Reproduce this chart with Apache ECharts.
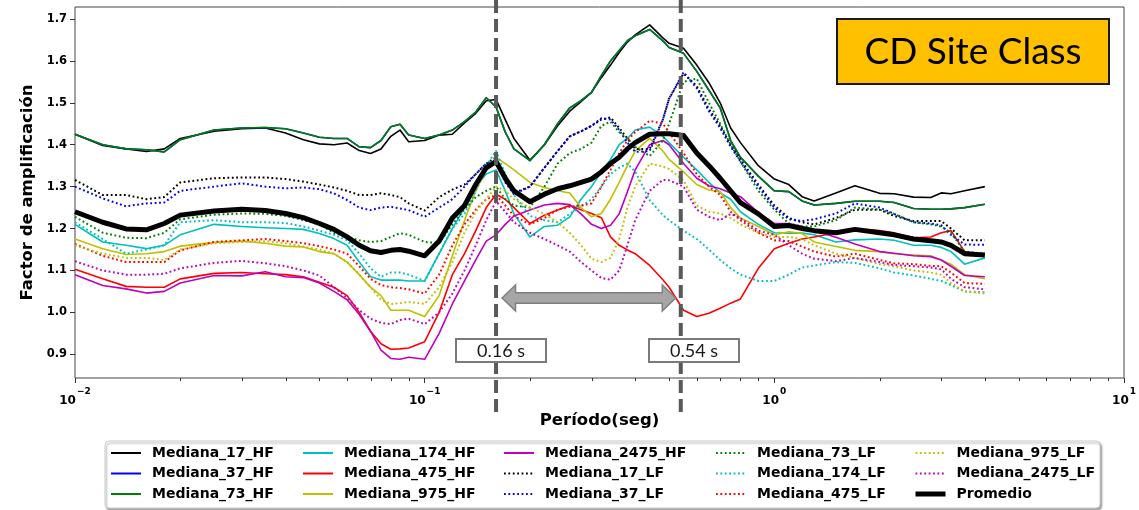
<!DOCTYPE html>
<html>
<head>
<meta charset="utf-8">
<script src="https://cdn.jsdelivr.net/npm/echarts@6/dist/echarts.min.js"></script>
<style>
  html, body { margin: 0; padding: 0; background: #ffffff; }
  #chart { width: 1139px; height: 510px; }
</style>
</head>
<body>
<div id="chart"></div>
<script>
// Periods (s) at which every median spectrum is sampled
const periods = [
  0.01, 0.012, 0.014, 0.016, 0.018, 0.02, 0.025, 0.03, 0.035, 0.04,
  0.045, 0.05, 0.055, 0.06, 0.065, 0.07, 0.075, 0.08, 0.085, 0.09,
  0.1, 0.11, 0.12, 0.13, 0.14, 0.15, 0.16, 0.17, 0.18, 0.2,
  0.22, 0.24, 0.26, 0.28, 0.3, 0.32, 0.34, 0.36, 0.38, 0.4,
  0.44, 0.48, 0.5, 0.55, 0.6, 0.65, 0.7, 0.75, 0.8, 0.9,
  1.0, 1.1, 1.2, 1.3, 1.5, 1.7, 2.0, 2.2, 2.5, 2.8,
  3.0, 3.2, 3.5, 4.0
];

// High-frequency medians
const mediana17HF = [
  1.425, 1.398, 1.390, 1.384, 1.390, 1.415, 1.432, 1.438, 1.440, 1.428,
  1.412, 1.402, 1.400, 1.404, 1.386, 1.379, 1.390, 1.420, 1.435, 1.407,
  1.410, 1.423, 1.425, 1.452, 1.475, 1.505, 1.508, 1.460, 1.415, 1.363,
  1.400, 1.445, 1.480, 1.503, 1.525, 1.560, 1.590, 1.620, 1.645, 1.662,
  1.686, 1.655, 1.642, 1.630, 1.590, 1.548, 1.500, 1.440, 1.405, 1.350,
  1.318, 1.305, 1.276, 1.266, 1.285, 1.302, 1.284, 1.283, 1.275, 1.274,
  1.285, 1.283, 1.290, 1.300
];
const mediana37HF = [
  1.425, 1.400, 1.390, 1.388, 1.383, 1.412, 1.435, 1.440, 1.441, 1.438,
  1.428, 1.418, 1.415, 1.415, 1.395, 1.393, 1.410, 1.443, 1.449, 1.423,
  1.415, 1.423, 1.435, 1.455, 1.478, 1.512, 1.490, 1.430, 1.390, 1.362,
  1.400, 1.450, 1.488, 1.505, 1.525, 1.565, 1.600, 1.625, 1.648, 1.660,
  1.675, 1.648, 1.632, 1.618, 1.575, 1.530, 1.488, 1.410, 1.370, 1.325,
  1.290, 1.288, 1.266, 1.256, 1.260, 1.265, 1.265, 1.262, 1.248, 1.246,
  1.246, 1.247, 1.250, 1.258
];
const mediana73HF = [
  1.425, 1.400, 1.390, 1.388, 1.383, 1.412, 1.435, 1.440, 1.441, 1.438,
  1.428, 1.418, 1.415, 1.415, 1.395, 1.393, 1.410, 1.443, 1.449, 1.423,
  1.415, 1.423, 1.435, 1.455, 1.478, 1.512, 1.490, 1.430, 1.390, 1.362,
  1.400, 1.450, 1.488, 1.505, 1.525, 1.565, 1.600, 1.625, 1.648, 1.660,
  1.675, 1.648, 1.632, 1.618, 1.575, 1.530, 1.488, 1.410, 1.370, 1.325,
  1.290, 1.288, 1.266, 1.256, 1.260, 1.265, 1.265, 1.262, 1.248, 1.246,
  1.246, 1.247, 1.250, 1.258
];
const mediana174HF = [
  1.210, 1.168, 1.160, 1.152, 1.160, 1.185, 1.210, 1.205, 1.202, 1.200,
  1.198, 1.188, 1.176, 1.160, 1.120, 1.085, 1.077, 1.077, 1.077, 1.075,
  1.075, 1.140, 1.200, 1.250, 1.300, 1.330, 1.340, 1.290, 1.235, 1.180,
  1.205, 1.208, 1.228, 1.270, 1.300, 1.335, 1.365, 1.400, 1.415, 1.435,
  1.442, 1.420, 1.405, 1.370, 1.340, 1.310, 1.285, 1.270, 1.240, 1.210,
  1.190, 1.189, 1.189, 1.185, 1.168, 1.173, 1.175, 1.172, 1.160, 1.160,
  1.155, 1.145, 1.115, 1.130
];
const mediana475HF = [
  1.103, 1.080, 1.062, 1.060, 1.060, 1.080, 1.093, 1.095, 1.092, 1.090,
  1.085, 1.072, 1.060, 1.040, 1.000, 0.955, 0.925, 0.912, 0.913, 0.915,
  0.930, 1.000, 1.090, 1.140, 1.195, 1.250, 1.282, 1.270, 1.250, 1.212,
  1.232, 1.244, 1.255, 1.245, 1.236, 1.226, 1.180, 1.160, 1.149, 1.140,
  1.112, 1.078, 1.060, 1.005, 0.990, 0.998, 1.010, 1.022, 1.032, 1.105,
  1.152, 1.165, 1.175, 1.180, 1.190, 1.200, 1.195, 1.190, 1.178, 1.180,
  1.190, 1.195, 1.145, 1.137
];
const mediana975HF = [
  1.175, 1.152, 1.138, 1.140, 1.145, 1.158, 1.167, 1.170, 1.165, 1.158,
  1.156, 1.145, 1.140, 1.120, 1.090, 1.060, 1.040, 1.005, 1.005, 1.005,
  0.990, 1.040, 1.135, 1.220, 1.290, 1.340, 1.370, 1.355, 1.340, 1.310,
  1.298, 1.290, 1.285, 1.250, 1.228, 1.236, 1.270, 1.310, 1.350, 1.385,
  1.415, 1.385, 1.365, 1.335, 1.305, 1.292, 1.288, 1.250, 1.225, 1.205,
  1.185, 1.192, 1.188, 1.168, 1.157, 1.148, 1.145, 1.140, 1.137, 1.135,
  1.125, 1.115, 1.090, 1.080
];
const mediana2475HF = [
  1.090, 1.064, 1.056, 1.046, 1.050, 1.070, 1.088, 1.087, 1.097, 1.085,
  1.083, 1.070, 1.050, 1.030, 0.995, 0.955, 0.910, 0.890, 0.888, 0.893,
  0.888, 0.950, 1.020, 1.075, 1.125, 1.170, 1.185, 1.210, 1.230, 1.244,
  1.256, 1.260, 1.257, 1.235, 1.210, 1.200, 1.208, 1.235, 1.288, 1.340,
  1.400, 1.410, 1.400, 1.355, 1.320, 1.302, 1.295, 1.285, 1.276, 1.238,
  1.212, 1.212, 1.205, 1.195, 1.179, 1.163, 1.145, 1.141, 1.135, 1.133,
  1.125, 1.110, 1.088, 1.085
];

// Low-frequency medians
const mediana17LF = [
  1.316, 1.280, 1.280, 1.270, 1.275, 1.310, 1.320, 1.322, 1.322, 1.318,
  1.312, 1.305, 1.298, 1.290, 1.280, 1.280, 1.284, 1.280, 1.275, 1.260,
  1.243, 1.275, 1.293, 1.305, 1.330, 1.355, 1.370, 1.315, 1.285, 1.300,
  1.345, 1.385, 1.420, 1.432, 1.445, 1.460, 1.465, 1.440, 1.415, 1.390,
  1.390, 1.460, 1.510, 1.570, 1.540, 1.485, 1.445, 1.400, 1.365, 1.305,
  1.255, 1.225, 1.215, 1.210, 1.225, 1.245, 1.245, 1.230, 1.218, 1.218,
  1.218, 1.200, 1.172, 1.172
];
const mediana37LF = [
  1.300, 1.272, 1.253, 1.260, 1.262, 1.290, 1.300, 1.308, 1.300, 1.296,
  1.298, 1.294, 1.284, 1.268, 1.250, 1.244, 1.250, 1.252, 1.248, 1.244,
  1.228, 1.250, 1.270, 1.300, 1.330, 1.355, 1.360, 1.310, 1.282, 1.300,
  1.345, 1.385, 1.420, 1.432, 1.445, 1.463, 1.460, 1.435, 1.405, 1.383,
  1.385, 1.460, 1.510, 1.573, 1.535, 1.480, 1.440, 1.395, 1.360, 1.300,
  1.250, 1.222, 1.218, 1.222, 1.236, 1.260, 1.250, 1.235, 1.215, 1.212,
  1.208, 1.185, 1.162, 1.161
];
const mediana73LF = [
  1.228, 1.190, 1.178, 1.177, 1.190, 1.222, 1.233, 1.236, 1.235, 1.230,
  1.220, 1.210, 1.190, 1.180, 1.172, 1.168, 1.170, 1.180, 1.189, 1.185,
  1.168, 1.165, 1.210, 1.245, 1.275, 1.290, 1.300, 1.270, 1.255, 1.250,
  1.300, 1.355, 1.380, 1.390, 1.405, 1.445, 1.455, 1.430, 1.415, 1.395,
  1.373, 1.410, 1.450, 1.550, 1.558, 1.500, 1.450, 1.400, 1.360, 1.290,
  1.245, 1.212, 1.205, 1.205, 1.220, 1.250, 1.245, 1.235, 1.215, 1.210,
  1.205, 1.190, 1.145, 1.140
];
const mediana174LF = [
  1.215, 1.175, 1.140, 1.150, 1.160, 1.215, 1.220, 1.215, 1.215, 1.213,
  1.205, 1.195, 1.185, 1.172, 1.140, 1.105, 1.085, 1.095, 1.095, 1.090,
  1.075, 1.140, 1.200, 1.235, 1.290, 1.350, 1.385, 1.330, 1.280, 1.230,
  1.220, 1.215, 1.235, 1.252, 1.270, 1.300, 1.330, 1.345, 1.355, 1.336,
  1.268, 1.232, 1.220, 1.195, 1.175, 1.150, 1.125, 1.105, 1.090, 1.075,
  1.075, 1.090, 1.107, 1.112, 1.120, 1.118, 1.105, 1.095, 1.088, 1.080,
  1.075, 1.065, 1.050, 1.048
];
const mediana475LF = [
  1.163, 1.135, 1.120, 1.120, 1.120, 1.148, 1.168, 1.172, 1.175, 1.170,
  1.165, 1.158, 1.150, 1.140, 1.110, 1.080, 1.065, 1.060, 1.058, 1.055,
  1.045, 1.090, 1.160, 1.210, 1.245, 1.270, 1.280, 1.255, 1.230, 1.210,
  1.225, 1.245, 1.252, 1.255, 1.260, 1.300, 1.340, 1.380, 1.410, 1.430,
  1.457, 1.450, 1.430, 1.380, 1.330, 1.300, 1.280, 1.240, 1.220, 1.190,
  1.172, 1.170, 1.157, 1.145, 1.133, 1.140, 1.125, 1.117, 1.115, 1.111,
  1.110, 1.095, 1.070, 1.068
];
const mediana975LF = [
  1.160, 1.140, 1.130, 1.130, 1.125, 1.150, 1.165, 1.168, 1.170, 1.165,
  1.157, 1.150, 1.140, 1.120, 1.090, 1.060, 1.030, 1.020, 1.022, 1.025,
  1.020, 1.060, 1.120, 1.190, 1.240, 1.270, 1.300, 1.290, 1.270, 1.250,
  1.235, 1.215, 1.190, 1.160, 1.128, 1.120, 1.130, 1.175, 1.250, 1.300,
  1.355, 1.348, 1.342, 1.315, 1.255, 1.240, 1.236, 1.225, 1.210, 1.190,
  1.180, 1.180, 1.175, 1.160, 1.140, 1.130, 1.115, 1.110, 1.100, 1.095,
  1.090, 1.070, 1.050, 1.045
];
const mediana2475LF = [
  1.122, 1.100, 1.090, 1.090, 1.092, 1.105, 1.118, 1.123, 1.117, 1.110,
  1.100, 1.088, 1.060, 1.035, 1.005, 0.985, 0.975, 0.972, 0.982, 0.985,
  0.972, 1.000, 1.045, 1.100, 1.160, 1.220, 1.265, 1.240, 1.215, 1.190,
  1.175, 1.160, 1.145, 1.120, 1.100, 1.082, 1.078, 1.100, 1.160, 1.220,
  1.290, 1.316, 1.315, 1.300, 1.245, 1.228, 1.220, 1.235, 1.225, 1.195,
  1.185, 1.160, 1.140, 1.128, 1.122, 1.130, 1.120, 1.113, 1.110, 1.107,
  1.103, 1.080, 1.060, 1.055
];

// Average of all medians
const promedio = [
  1.240, 1.215, 1.199, 1.197, 1.212, 1.232, 1.242, 1.246, 1.243, 1.236,
  1.226, 1.212, 1.198, 1.180, 1.160, 1.147, 1.143, 1.148, 1.150, 1.146,
  1.135, 1.170, 1.225, 1.255, 1.305, 1.345, 1.360, 1.320, 1.290, 1.264,
  1.282, 1.295, 1.302, 1.310, 1.318, 1.335, 1.355, 1.370, 1.390, 1.405,
  1.425, 1.426, 1.426, 1.422, 1.380, 1.350, 1.320, 1.290, 1.262, 1.235,
  1.205, 1.207, 1.200, 1.195, 1.190, 1.198, 1.190, 1.185, 1.175, 1.171,
  1.168, 1.160, 1.140, 1.137
];

// Axis ticks and labels
const yTickValues = [0.9, 1.0, 1.1, 1.2, 1.3, 1.4, 1.5, 1.6, 1.7];
const xTickValues = [0.01, 0.1, 1, 10];
const xTickExponents = ['\u22122', '\u22121', '0', '1'];
const xMinorTickValues = [
  0.02, 0.03, 0.04, 0.05, 0.06, 0.07, 0.08, 0.09,
  0.2, 0.3, 0.4, 0.5, 0.6, 0.7, 0.8, 0.9,
  2, 3, 4, 5, 6, 7, 8, 9
];

// Period band boundaries and labels
const bandPeriods = [0.16, 0.54];
const bandLabels = ['0.16 s', '0.54 s'];
const siteClassLabel = 'CD Site Class';

// Series styling (matplotlib classic colours)
const seriesList = [
  { name: 'Mediana_17_HF', values: mediana17HF, color: '#000000', dotted: false },
  { name: 'Mediana_37_HF', values: mediana37HF, color: '#0000ff', dotted: false },
  { name: 'Mediana_73_HF', values: mediana73HF, color: '#008000', dotted: false },
  { name: 'Mediana_174_HF', values: mediana174HF, color: '#00bfbf', dotted: false },
  { name: 'Mediana_475_HF', values: mediana475HF, color: '#ff0000', dotted: false },
  { name: 'Mediana_975_HF', values: mediana975HF, color: '#bfbf00', dotted: false },
  { name: 'Mediana_2475_HF', values: mediana2475HF, color: '#bf00bf', dotted: false },
  { name: 'Mediana_17_LF', values: mediana17LF, color: '#000000', dotted: true },
  { name: 'Mediana_37_LF', values: mediana37LF, color: '#0000ff', dotted: true },
  { name: 'Mediana_73_LF', values: mediana73LF, color: '#008000', dotted: true },
  { name: 'Mediana_174_LF', values: mediana174LF, color: '#00bfbf', dotted: true },
  { name: 'Mediana_475_LF', values: mediana475LF, color: '#ff0000', dotted: true },
  { name: 'Mediana_975_LF', values: mediana975LF, color: '#bfbf00', dotted: true },
  { name: 'Mediana_2475_LF', values: mediana2475LF, color: '#bf00bf', dotted: true },
  { name: 'Promedio', values: promedio, color: '#000000', dotted: false, thick: true }
];

// Legend laid out column by column, five columns of three entries
const legendColumns = [
  ['Mediana_17_HF', 'Mediana_37_HF', 'Mediana_73_HF'],
  ['Mediana_174_HF', 'Mediana_475_HF', 'Mediana_975_HF'],
  ['Mediana_2475_HF', 'Mediana_17_LF', 'Mediana_37_LF'],
  ['Mediana_73_LF', 'Mediana_174_LF', 'Mediana_475_LF'],
  ['Mediana_975_LF', 'Mediana_2475_LF', 'Promedio']
];
const legendColumnLeft = [110, 302, 503, 715, 913];

const GRID = { left: 75, top: 7, width: 1054, height: 371 };
const Y_MIN = 0.8434, Y_MAX = 1.7286;
const BOLD = { fontFamily: 'DejaVu Sans', fontWeight: 'bold', color: '#000000' };

const chart = echarts.init(document.getElementById('chart'), null, { renderer: 'canvas' });

const styleByName = {};
seriesList.forEach(s => { styleByName[s.name] = s; });

const series = seriesList.map(s => ({
  name: s.name,
  type: 'line',
  data: periods.map((p, i) => [p, s.values[i]]),
  symbol: 'none',
  showSymbol: false,
  silent: true,
  clip: true,
  lineStyle: {
    color: s.color,
    width: s.thick ? 5 : (s.dotted ? 2 : 1.6),
    type: s.dotted ? [1.8, 2.6] : 'solid',
    cap: 'butt',
    join: 'round'
  },
  itemStyle: { color: s.color }
}));

const legends = legendColumns.map((col, k) => ({
  orient: 'vertical',
  left: legendColumnLeft[k],
  top: 446,
  padding: 0,
  itemWidth: 30,
  itemHeight: 14,
  itemGap: 6.5,
  selectedMode: false,
  itemStyle: { opacity: 0, borderWidth: 0 },
  textStyle: Object.assign({ fontSize: 14, padding: [0, 0, 0, 6] }, BOLD),
  data: col.map(name => ({
    name: name,
    lineStyle: {
      width: styleByName[name].thick ? 5 : 2,
      type: styleByName[name].dotted ? [1.8, 2.6] : 'solid',
      color: styleByName[name].color
    }
  }))
}));

chart.setOption({
  animation: false,
  backgroundColor: '#ffffff',
  grid: Object.assign({ show: true, borderColor: '#444444', borderWidth: 1, backgroundColor: 'transparent' }, GRID),
  legend: legends,
  xAxis: {
    type: 'log',
    logBase: 10,
    min: 0.01,
    max: 10,
    axisLine: { show: false },
    splitLine: { show: false },
    axisTick: { show: true, length: 5, lineStyle: { color: '#333333', width: 1 } },
    axisLabel: {
      margin: 9,
      formatter: v => {
        const e = Math.round(Math.log10(v));
        const idx = xTickValues.findIndex(t => Math.round(Math.log10(t)) === e);
        return '{b|10}{s|' + (idx >= 0 ? xTickExponents[idx] : e) + '}';
      },
      rich: {
        b: Object.assign({ fontSize: 12, lineHeight: 20, verticalAlign: 'bottom' }, BOLD),
        s: Object.assign({ fontSize: 9, lineHeight: 20, verticalAlign: 'top', padding: [0, 0, 0, 1] }, BOLD)
      }
    },
    name: 'Período(seg)',
    nameLocation: 'middle',
    nameGap: 25,
    nameTextStyle: Object.assign({ fontSize: 16.5 }, BOLD)
  },
  yAxis: {
    type: 'value',
    min: Y_MIN,
    max: Y_MAX,
    axisLine: { show: false },
    splitLine: { show: false },
    axisTick: { show: true, length: 5, customValues: yTickValues, lineStyle: { color: '#333333', width: 1 } },
    axisLabel: Object.assign({
      customValues: yTickValues,
      fontSize: 11.5,
      margin: 8,
      formatter: v => Number(v).toFixed(1)
    }, BOLD),
    name: 'Factor de amplificación',
    nameLocation: 'middle',
    nameGap: 30,
    nameTextStyle: Object.assign({ fontSize: 16.5 }, BOLD)
  },
  series: series
});

// Annotation layer: period band, arrow, labels, site-class tag, legend frame
function buildGraphics() {
  const g = [];
  const axisY = GRID.top + GRID.height;

  // minor ticks of the log axis
  xMinorTickValues.forEach(v => {
    const x = Math.round(chart.convertToPixel({ xAxisIndex: 0 }, v)) + 0.5;
    g.push({
      type: 'line', silent: true, z: 5,
      shape: { x1: x, y1: axisY, x2: x, y2: axisY + 3 },
      style: { stroke: '#333333', lineWidth: 1 }
    });
  });

  // legend frame with a soft drop shadow
  g.push({
    type: 'rect', silent: true, z: -1,
    shape: { x: 105, y: 441, width: 995, height: 67, r: 4 },
    style: {
      fill: '#ffffff', stroke: '#cccccc', lineWidth: 1,
      shadowColor: 'rgba(0,0,0,0.35)', shadowBlur: 2, shadowOffsetX: 1.5, shadowOffsetY: 2
    }
  });

  const bx = bandPeriods.map(p => chart.convertToPixel({ xAxisIndex: 0 }, p));

  // dashed period markers running past the plot frame
  bx.forEach(x => {
    g.push({
      type: 'line', silent: true, z: 20,
      shape: { x1: x, y1: 0, x2: x, y2: 413 },
      style: { stroke: '#595959', lineWidth: 4, lineDash: [13, 6] }
    });
  });

  // double-headed arrow between the markers
  const L = bx[0] + 6, R = bx[1] - 5, cy = 298, hl = 13.5, hh = 13, bh = 5.3;
  g.push({
    type: 'polygon', silent: true, z: 21,
    shape: {
      points: [
        [L, cy], [L + hl, cy - hh], [L + hl, cy - bh], [R - hl, cy - bh], [R - hl, cy - hh],
        [R, cy], [R - hl, cy + hh], [R - hl, cy + bh], [L + hl, cy + bh], [L + hl, cy + hh]
      ]
    },
    style: { fill: '#a6a6a6', stroke: '#7f7f7f', lineWidth: 1.5 }
  });

  // boxed period labels
  const boxes = [{ x: 456, y: 339 }, { x: 649, y: 339 }];
  boxes.forEach((b, i) => {
    g.push({
      type: 'rect', silent: true, z: 22,
      shape: { x: b.x, y: b.y, width: 90, height: 23 },
      style: { fill: '#ffffff', stroke: '#7a7a7a', lineWidth: 2 }
    });
    g.push({
      type: 'text', silent: true, z: 23,
      style: {
        text: bandLabels[i], x: b.x + 45, y: b.y + 12,
        align: 'center', verticalAlign: 'middle',
        fontFamily: 'Lato', fontSize: 18, fill: '#1a1a1a'
      }
    });
  });

  // site class tag
  g.push({
    type: 'rect', silent: true, z: 22,
    shape: { x: 837, y: 19, width: 272, height: 65 },
    style: { fill: '#ffc000', stroke: '#1a1a1a', lineWidth: 2 }
  });
  g.push({
    type: 'text', silent: true, z: 23,
    style: {
      text: siteClassLabel, x: 973, y: 52,
      align: 'center', verticalAlign: 'middle',
      fontFamily: 'Lato', fontSize: 37, fill: '#000000'
    }
  });
  return g;
}

chart.setOption({ graphic: buildGraphics() });
</script>
</body>
</html>
